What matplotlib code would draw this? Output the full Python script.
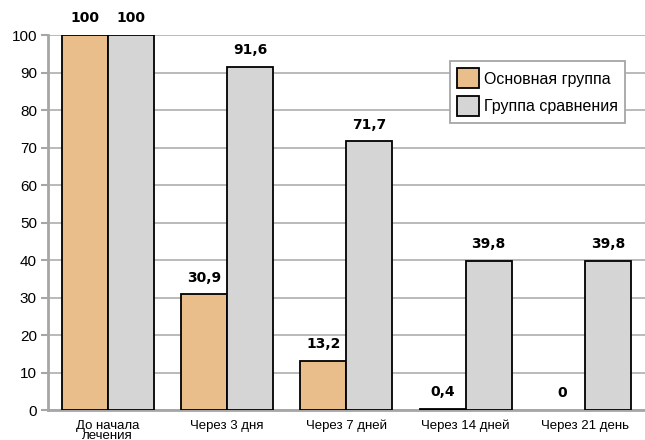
import numpy as np
import matplotlib
matplotlib.use("Agg")
import matplotlib.pyplot as plt

plt.rcParams['font.family'] = ['Liberation Sans', 'DejaVu Sans']

categories = ["До начала\nлечения", "Через 3 дня", "Через 7 дней", "Через 14 дней", "Через 21 день"]
main_group = [100, 30.9, 13.2, 0.4, 0]
compare_group = [100, 91.6, 71.7, 39.8, 39.8]
series_names = ["Основная группа", "Группа сравнения"]

orange = "#E9BE8B"
grey = "#D5D5D5"
line_grey = "#A6A6A6"

fig = plt.figure(figsize=(6.45, 4.4), dpi=100)
ax = fig.add_axes([0.0745, 0.068, 0.925, 0.852])

x = np.arange(len(categories))
w = 0.385
b1 = ax.bar(x - w / 2, main_group, w, color=orange, edgecolor="black", linewidth=1.3,
            label=series_names[0], zorder=3)
b2 = ax.bar(x + w / 2, compare_group, w, color=grey, edgecolor="black", linewidth=1.3,
            label=series_names[1], zorder=3)

def fmt(v):
    return ("%g" % v).replace(".", ",")

for bars, vals in ((b1, main_group), (b2, compare_group)):
    for rect, v in zip(bars, vals):
        if v == 0:
            rect.set_linewidth(0)
        ax.annotate(fmt(v), (rect.get_x() + rect.get_width() / 2, v),
                    xytext=(0, 7), textcoords="offset points",
                    ha="center", va="bottom", fontsize=10, fontweight="bold",
                    family="DejaVu Sans")

ax.set_xlim(-0.5, len(categories) - 0.5)
ax.set_ylim(0, 100)
ax.set_yticks(range(0, 101, 10))
ax.set_xticks(x)
ax.set_xticklabels(categories, fontsize=9.5, linespacing=0.8, va="top")
ax.tick_params(axis="x", length=0, pad=7)
ax.tick_params(axis="y", length=5, width=1.5, color=line_grey, labelsize=11, pad=3)

ax.yaxis.grid(True, color="#B4B4B4", linewidth=1.3, zorder=0)
ax.set_axisbelow(True)
for s in ("top", "right"):
    ax.spines[s].set_visible(False)
for s in ("left", "bottom"):
    ax.spines[s].set_color(line_grey)
    ax.spines[s].set_linewidth(2)

leg = ax.legend(loc="upper right", bbox_to_anchor=(0.98, 0.952), fontsize=11.5,
                frameon=True, fancybox=False, edgecolor=line_grey, framealpha=1,
                handlelength=1.35, handleheight=1.55, handletextpad=0.3,
                borderpad=0.45, labelspacing=0.45)
leg.get_frame().set_linewidth(1.3)

fig.savefig("out.png", dpi=100)
